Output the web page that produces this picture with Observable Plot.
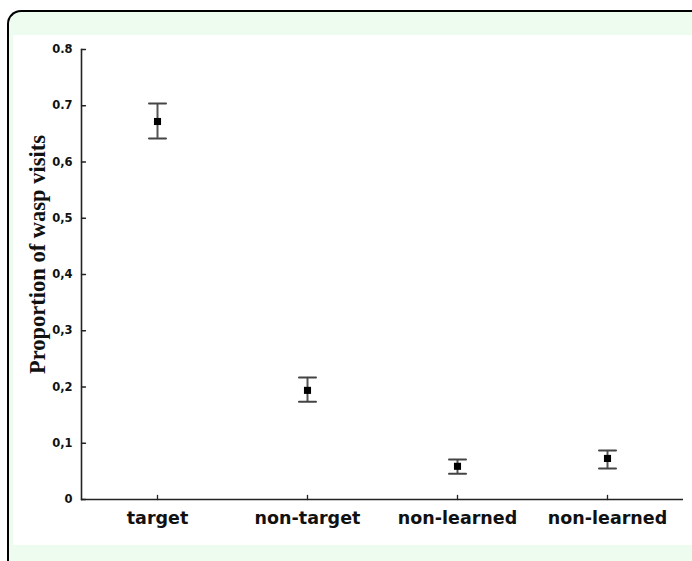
<!DOCTYPE html>
<html><head><meta charset="utf-8">
<script src="https://cdn.jsdelivr.net/npm/d3@7"></script>
<script src="https://cdn.jsdelivr.net/npm/@observablehq/plot@0.6"></script>
<style>
body{margin:0;background:#fff;}
#wrap{position:relative;width:692px;height:561px;overflow:hidden;}
#frame{position:absolute;left:7px;top:10px;width:720px;height:620px;border-top:2px solid #000;border-left:2px solid #000;border-top-left-radius:14px;background:#eefcef;box-sizing:border-box;}
#inner{position:absolute;left:13px;top:35px;width:679px;height:510px;background:#fff;}
#chart{position:absolute;left:0;top:0;}
</style></head><body>
<div id="wrap"><div id="frame"></div><div id="inner"></div><div id="chart"></div></div>
<script>
const categories = ["target", "non-target", "non-learned", "non-learned"];
const means = [0.672, 0.194, 0.059, 0.073];
const upper = [0.704, 0.217, 0.071, 0.087];
const lower = [0.642, 0.174, 0.046, 0.055];
const yTicks = [0, 0.1, 0.2, 0.3, 0.4, 0.5, 0.6, 0.7, 0.8];
const yTickLabels = ["0", "0,1", "0,2", "0,3", "0,4", "0,5", "0,6", "0.7", "0.8"];
const yLabel = "Proportion of wasp visits";

const data = categories.map((c, i) => ({i, c, mean: means[i], hi: upper[i], lo: lower[i]}));
const idx = data.map(d => d.i);

const line = {draw(context, l) { context.moveTo(0, 0); context.lineTo(0, -l); }};
const sans = "DejaVu Sans, sans-serif";
const axisColor = "#222";

const chart = Plot.plot({
  width: 692, height: 561,
  marginLeft: 81, marginRight: 9, marginTop: 49, marginBottom: 62,
  style: {background: "transparent", overflow: "visible"},
  x: {type: "band", domain: idx, padding: 0, axis: null},
  y: {domain: [0, 0.8], axis: null},
  marks: [
    Plot.frame({anchor: "left", stroke: axisColor, strokeWidth: 1.6}),
    Plot.ruleY([0], {stroke: axisColor, strokeWidth: 1.6}),
    Plot.vector(yTicks, {y: d => d, frameAnchor: "left", length: 4, rotate: 90, anchor: "start", shape: line, stroke: axisColor, strokeWidth: 1.3}),
    Plot.vector(idx, {x: d => d, frameAnchor: "bottom", length: 4, rotate: 0, anchor: "start", shape: line, stroke: axisColor, strokeWidth: 1.3}),
    Plot.axisY({ticks: yTicks, tickSize: 0, tickPadding: 9, tickFormat: (d) => yTickLabels[yTicks.indexOf(d)], fontSize: 11.5, fontWeight: "bold", fontFamily: sans, fill: "#111", label: null}),
    Plot.axisX({tickSize: 0, tickPadding: 12, tickFormat: i => categories[i], fontSize: 17.5, fontWeight: "bold", fontFamily: sans, fill: "#111", label: null}),
    Plot.text([yLabel], {text: d => d, frameAnchor: "left", textAnchor: "middle", rotate: -90, dx: -44, dy: -20, fontSize: 22.5, fontWeight: "bold", fontFamily: "Liberation Serif, Times New Roman, serif", fill: "#111"}),
    Plot.ruleX(data, {x: "i", y1: "lo", y2: "hi", stroke: "#555", strokeWidth: 2}),
    Plot.vector(data, {x: "i", y: "hi", length: 17, rotate: 90, anchor: "middle", shape: line, stroke: "#444", strokeWidth: 2}),
    Plot.vector(data, {x: "i", y: "lo", length: 17, rotate: 90, anchor: "middle", shape: line, stroke: "#444", strokeWidth: 2}),
    Plot.dot(data, {x: "i", y: "mean", symbol: "square", r: 4, fill: "#000", stroke: "none"})
  ]
});
document.getElementById("chart").appendChild(chart);
</script>
</body></html>
